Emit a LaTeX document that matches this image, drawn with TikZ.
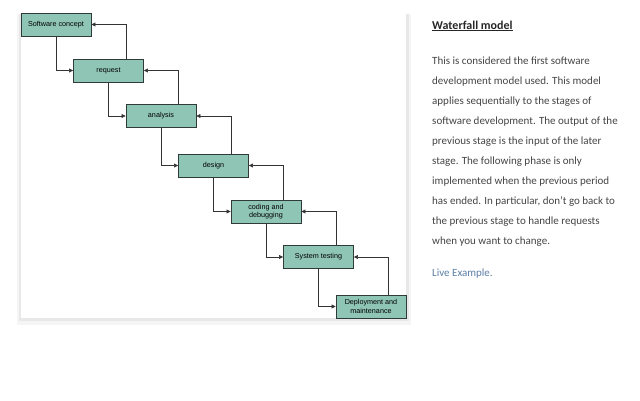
\documentclass[tikz,border=0pt]{standalone}
\usepackage{fontspec}
\setmainfont{Carlito}
\newfontfamily\arialf{Liberation Sans}
\usetikzlibrary{arrows.meta}
\definecolor{boxfill}{HTML}{8FC5B4}
\definecolor{boxline}{HTML}{2E3B38}
\definecolor{bodytxt}{HTML}{444444}
\definecolor{linkc}{HTML}{5B7FA6}
\begin{document}
\begin{tikzpicture}[x=1pt,y=-1pt,
  stage/.style={draw=boxline,line width=0.9pt,fill=boxfill,minimum width=70pt,minimum height=23pt,inner sep=1pt,align=center,font=\arialf\fontsize{7.2}{8.5}\selectfont},
  conn/.style={draw=black!80,line width=0.6pt,-{Triangle[length=4pt,width=4pt]}},
  body/.style={anchor=base west,font=\fontsize{11}{13}\selectfont,text=bodytxt,inner sep=0}]
\useasboundingbox (0,0) rectangle (640,400);
\fill[black!4] (17,14) rectangle (411,325);
\fill[black!9] (19,14) rectangle (409,321);
\fill[white] (21,13) rectangle (406,318);
\node[stage] (s1) at (56,24.5) {Software concept};
\node[stage] (s2) at (108.5,70.5) {request};
\node[stage] (s3) at (161,116) {analysis};
\node[stage] (s4) at (213.5,165.5) {design};
\node[stage] (s5) at (266,211.5) {coding and\\debugging};
\node[stage] (s6) at (318.5,257) {System testing};
\node[stage] (s7) at (371,306.5) {Deployment and\\maintenance};
\foreach \a/\b in {s1/s2,s2/s3,s3/s4,s4/s5,s5/s6,s6/s7}{
  \draw[conn] (\a.south) |- (\b.west);
  \draw[conn] ([xshift=-18pt]\b.north east) |- (\a.east);
}
\node[body,font=\bfseries\fontsize{12}{14}\selectfont,text=black!85] (t) at (432,29) {\underline{Waterfall model}};
\node[body] (l1) at (432,64) {This is considered the first software};
\node[body] (l2) at (432,84) {development model used. This model};
\node[body] (l3) at (432,104) {applies sequentially to the stages of};
\node[body] (l4) at (432,124) {software development. The output of the};
\node[body] (l5) at (432,144) {previous stage is the input of the later};
\node[body] (l6) at (432,164) {stage. The following phase is only};
\node[body] (l7) at (432,184) {implemented when the previous period};
\node[body] (l8) at (432,204) {has ended. In particular, don't go back to};
\node[body] (l9) at (432,224) {the previous stage to handle requests};
\node[body] (l10) at (432,244) {when you want to change.};
\node[body,text=linkc] (lk) at (432,276) {Live Example.};
\end{tikzpicture}
\end{document}
